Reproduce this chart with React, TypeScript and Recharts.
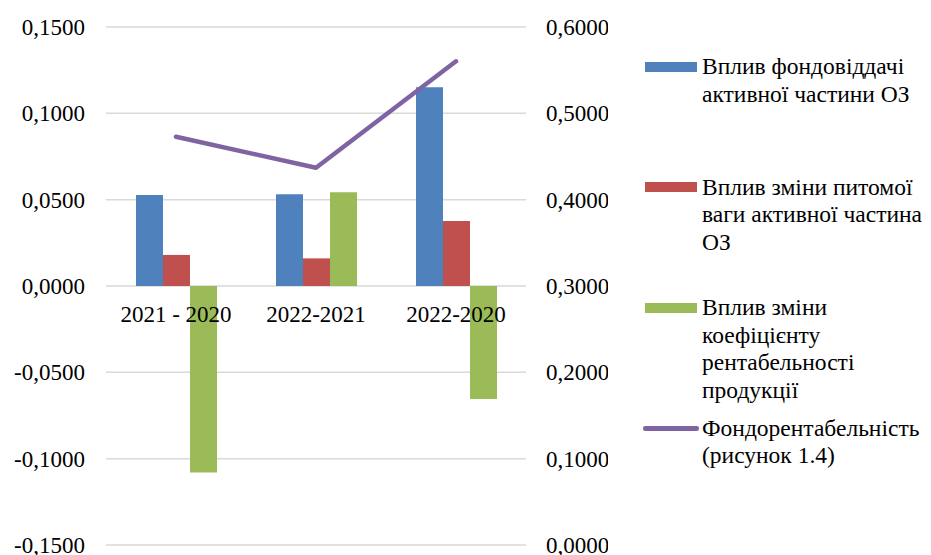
import React from 'react';
import { ComposedChart, Bar, Line, XAxis, YAxis, CartesianGrid, LabelList } from 'recharts';

// Periods compared
const categories = ['2021 - 2020', '2022-2021', '2022-2020'];

// Factor effects (left axis)
const assetReturnEffect = [0.0527, 0.0531, 0.1151];
const activeShareEffect = [0.018, 0.016, 0.0377];
const profitabilityEffect = [-0.108, 0.0543, -0.0655];

// Return on fixed assets (right axis)
const returnOnAssets = [0.4729, 0.437, 0.5603];

const leftTicks = [-0.15, -0.1, -0.05, 0, 0.05, 0.1, 0.15];
const rightTicks = [0, 0.1, 0.2, 0.3, 0.4, 0.5, 0.6];

const seriesLabels = [
  'Вплив фондовіддачі\nактивної частини ОЗ',
  'Вплив зміни питомої\nваги активної частина\nОЗ',
  'Вплив зміни\nкоефіцієнту\nрентабельності\nпродукції',
  'Фондорентабельність\n(рисунок 1.4)',
];
const seriesColors = ['#4F81BD', '#C0504D', '#9BBB59', '#8064A2'];

const data = categories.map((category, i) => ({
  category,
  assetReturn: assetReturnEffect[i],
  activeShare: activeShareEffect[i],
  profitability: profitabilityEffect[i],
  roa: returnOnAssets[i],
}));

const FONT = 'Liberation Serif';
const fmt = (v: number) => v.toFixed(4).replace('.', ',');

function LegendBox() {
  return (
    <div style={{ position: 'absolute', left: 634, top: 45, fontFamily: FONT, color: '#000' }}>
      {seriesLabels.map((label, i) => (
        <div key={i} style={{ display: 'flex', alignItems: 'flex-start', height: 120.5 }}>
          <div style={{ width: 55, height: 27.5, display: 'flex', alignItems: 'center', justifyContent: 'flex-end', paddingRight: 5 }}>
            {i < 3 ? (
              <div style={{ width: 52, height: 10, background: seriesColors[i] }} />
            ) : (
              <div style={{ width: 56, height: 4.5, borderRadius: 2.25, background: seriesColors[i], marginRight: -2 }} />
            )}
          </div>
          <div style={{ fontSize: 23.5, lineHeight: '27.5px', whiteSpace: 'pre' }}>{label}</div>
        </div>
      ))}
    </div>
  );
}

export default function App() {
  return (
    <div style={{ position: 'relative', width: 915, height: 547 }}>
      <ComposedChart
        width={600}
        height={547}
        data={data}
        margin={{ top: 19, right: 0, bottom: 10, left: 0 }}
        barGap={0}
      >
        <CartesianGrid yAxisId="left" vertical={false} stroke="#D9D9D9" strokeWidth={1.5} />
        <XAxis dataKey="category" hide />
        <YAxis
          yAxisId="left"
          domain={[-0.15, 0.15]}
          ticks={leftTicks}
          interval={0}
          tickFormatter={fmt}
          width={98}
          axisLine={false}
          tickLine={false}
          tickSize={0}
          tickMargin={21}
          tick={{ fill: '#000', fontSize: 23, fontFamily: FONT }}
        />
        <YAxis
          yAxisId="right"
          orientation="right"
          domain={[0, 0.6]}
          ticks={rightTicks}
          interval={0}
          tickFormatter={fmt}
          width={82}
          axisLine={false}
          tickLine={false}
          tickSize={0}
          tickMargin={20}
          tick={{ fill: '#000', fontSize: 23, textAnchor: 'start', fontFamily: FONT }}
        />
        <Bar yAxisId="left" dataKey="assetReturn" fill={seriesColors[0]} barSize={27} isAnimationActive={false} />
        <Bar yAxisId="left" dataKey="activeShare" fill={seriesColors[1]} barSize={27} isAnimationActive={false} />
        <Bar yAxisId="left" dataKey="profitability" fill={seriesColors[2]} barSize={27} isAnimationActive={false} />
        {/* category labels sit on the zero line of the left axis */}
        <Line
          yAxisId="left"
          dataKey={() => 0}
          stroke="none"
          dot={false}
          activeDot={false}
          legendType="none"
          isAnimationActive={false}
        >
          <LabelList
            dataKey="category"
            position="bottom"
            offset={20}
            fill="#000"
            fontSize={23}
            fontFamily={FONT}
          />
        </Line>
        <Line
          yAxisId="right"
          dataKey="roa"
          stroke={seriesColors[3]}
          strokeWidth={4.5}
          strokeLinecap="round"
          strokeLinejoin="round"
          dot={false}
          activeDot={false}
          isAnimationActive={false}
        />
      </ComposedChart>
      <LegendBox />
    </div>
  );
}
